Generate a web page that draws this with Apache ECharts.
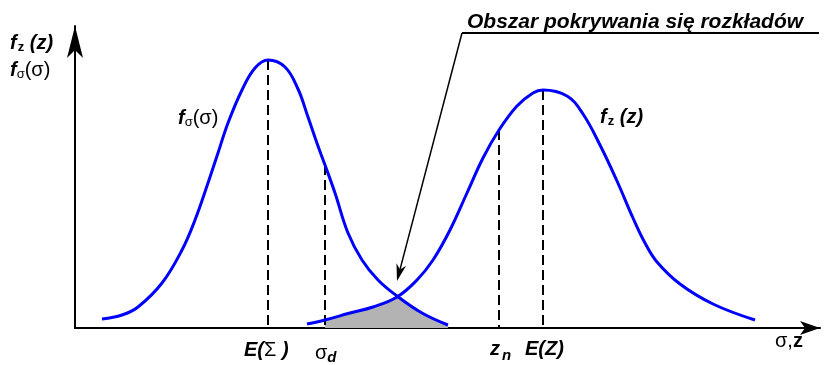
<!DOCTYPE html>
<html>
<head>
<meta charset="utf-8">
<script src="https://cdn.jsdelivr.net/npm/echarts@6/dist/echarts.min.js"></script>
<style>
  html, body { margin: 0; padding: 0; background: #fff; }
  #chart { width: 832px; height: 365px; }
</style>
</head>
<body>
<div id="chart"></div>
<script>
// Density of the stress distribution f_σ(σ): positions on the σ,z axis and heights
const sigmaX = [27, 47, 63, 87, 107, 120, 133, 143, 153, 167, 180, 193, 210, 223, 233, 243, 250, 260, 273, 287, 303, 322, 347, 373];
const sigmaY = [9, 13, 21, 45, 78, 108, 145, 175, 205, 238, 260, 268, 261, 239, 211, 182, 163, 135, 95, 68, 48, 32, 15, 3];

// Density of the strength distribution f_z(z)
const zX = [232, 250, 275, 298, 322, 342, 358, 375, 392, 408, 424, 442, 458, 468, 492, 508, 525, 542, 558, 570, 582, 605, 638, 680];
const zY = [4, 8, 15, 21, 31, 48, 68, 98, 135, 170, 198, 222, 235, 238, 232, 214, 183, 147, 110, 85, 66, 44, 24, 8];

// Characteristic points on the σ,z axis
const E_SIGMA = 193;   // E(Σ)
const SIGMA_D = 250;   // σ_d
const Z_N = 424;       // z_n
const E_Z = 468;       // E(Z)
const CROSS = 322;     // where the two densities intersect

const X_MAX = 745;
const Y_MAX = 302;

const pairs = (xs, ys) => xs.map((x, i) => [x, ys[i]]);
const sigmaPts = pairs(sigmaX, sigmaY);
const zPts = pairs(zX, zY);
const heightAt = (pts, x) => pts.find(p => p[0] === x)[1];

// Overlap region: under f_z from σ_d to the crossing, then under f_σ
const overlapLeft = zPts.filter(p => p[0] >= SIGMA_D && p[0] <= CROSS);
const overlapRight = sigmaPts.filter(p => p[0] >= CROSS);

const SMOOTH = 0.4;
const BLUE = '#0000ff';

const dashed = (x, top) => ({
  type: 'line',
  data: [[x, top], [x, 0]],
  symbol: 'none',
  silent: true,
  z: 3,
  lineStyle: { color: '#000', width: 2, type: [10, 5] }
});

const areaPart = (pts) => ({
  type: 'line',
  data: pts,
  symbol: 'none',
  smooth: SMOOTH,
  silent: true,
  z: 2,
  lineStyle: { width: 0 },
  areaStyle: { color: '#b3b3b3', opacity: 1 }
});

const curve = (pts) => ({
  type: 'line',
  data: pts,
  symbol: 'none',
  smooth: SMOOTH,
  silent: true,
  z: 5,
  lineStyle: { color: BLUE, width: 3 }
});

const SANS = 'Liberation Sans';
const rich = {
  f:  { fontFamily: SANS, fontWeight: 'bold', fontStyle: 'italic', fontSize: 20, lineHeight: 24, color: '#000', verticalAlign: 'middle' },
  zs: { fontFamily: SANS, fontWeight: 'bold', fontSize: 13, lineHeight: 24, padding: [8, 0, 0, 1], color: '#000', verticalAlign: 'middle' },
  ss: { fontFamily: SANS, fontSize: 13, lineHeight: 24, padding: [8, 0, 0, 0], color: '#000', verticalAlign: 'middle' },
  sg: { fontFamily: SANS, fontSize: 20, lineHeight: 24, color: '#000', verticalAlign: 'middle' },
  ds: { fontFamily: SANS, fontWeight: 'bold', fontStyle: 'italic', fontSize: 15, lineHeight: 24, padding: [10, 0, 0, 0], color: '#000', verticalAlign: 'middle' },
  ns: { fontFamily: SANS, fontWeight: 'bold', fontStyle: 'italic', fontSize: 15, lineHeight: 24, padding: [14, 0, 0, 2], color: '#000', verticalAlign: 'middle' },
  fb: { fontFamily: SANS, fontWeight: 'bold', fontSize: 20, lineHeight: 24, color: '#000', verticalAlign: 'middle' },
  sx: { fontFamily: SANS, fontSize: 20, lineHeight: 24, color: '#000', verticalAlign: 'middle' },
  t:  { fontFamily: SANS, fontWeight: 'bold', fontStyle: 'italic', fontSize: 21, lineHeight: 24, color: '#000', verticalAlign: 'middle' }
};

const label = (x, y, text) => ({
  type: 'text',
  x: x,
  y: y,
  silent: true,
  z: 10,
  style: { text: text, rich: rich, align: 'left', verticalAlign: 'middle' }
});

// Arrow from the caption to the overlap region
const tail = [462, 33];
const tip = [397, 281];
const dx = tip[0] - tail[0], dy = tip[1] - tail[1];
const len = Math.hypot(dx, dy);
const ux = dx / len, uy = dy / len;
const px = -uy, py = ux;
const headLen = 17, headHalf = 5, notch = 12;
const base = [tip[0] - headLen * ux, tip[1] - headLen * uy];
const notchPt = [tip[0] - notch * ux, tip[1] - notch * uy];

const chart = echarts.init(document.getElementById('chart'), null, { renderer: 'canvas' });
chart.setOption({
  animation: false,
  backgroundColor: '#fff',
  grid: { left: 75, right: 12, top: 26, bottom: 37, containLabel: false },
  xAxis: {
    type: 'value', min: 0, max: X_MAX,
    axisLine: { show: true, onZero: false, symbol: ['none', 'arrow'], symbolSize: [10.5, 20], lineStyle: { color: '#000', width: 2 } },
    axisTick: { show: false }, axisLabel: { show: false }, splitLine: { show: false }
  },
  yAxis: {
    type: 'value', min: 0, max: Y_MAX,
    axisLine: { show: true, onZero: false, symbol: ['none', 'arrow'], symbolSize: [12, 32], lineStyle: { color: '#000', width: 2 } },
    axisTick: { show: false }, axisLabel: { show: false }, splitLine: { show: false }
  },
  series: [
    areaPart(overlapLeft),
    areaPart(overlapRight),
    dashed(E_SIGMA, heightAt(sigmaPts, E_SIGMA)),
    dashed(SIGMA_D, heightAt(sigmaPts, SIGMA_D)),
    dashed(Z_N, heightAt(zPts, Z_N)),
    dashed(E_Z, heightAt(zPts, E_Z)),
    curve(sigmaPts),
    curve(zPts)
  ],
  graphic: [
    { type: 'polyline', silent: true, z: 10, shape: { points: [[819, 33], tail] }, style: { stroke: '#000', lineWidth: 2, fill: null } },
    { type: 'polyline', silent: true, z: 10, shape: { points: [tail, notchPt] }, style: { stroke: '#000', lineWidth: 1.5, fill: null } },
    { type: 'polygon', silent: true, z: 10, shape: { points: [
        tip,
        [base[0] + headHalf * px, base[1] + headHalf * py],
        notchPt,
        [base[0] - headHalf * px, base[1] - headHalf * py]
      ] }, style: { fill: '#000' } },
    label(467, 22, '{t|Obszar pokrywania się rozkładów}'),
    label(10, 43, '{f|f}{zs|z}{f| (z)}'),
    label(10, 70, '{f|f}{ss|σ}{sg|(σ)}'),
    label(178, 118, '{f|f}{ss|σ}{sg|(σ)}'),
    label(600, 117, '{f|f}{zs|z}{f| (z)}'),
    label(244, 350, '{f|E(}{sg|Σ}{f| )}'),
    label(315, 353, '{sg|σ}{ds|d}'),
    label(490, 349, '{f|z}{ns|n}'),
    label(525, 349, '{f|E(Z)}'),
    label(775, 341, '{sx|σ,}{fb|z}')
  ]
});
</script>
</body>
</html>
